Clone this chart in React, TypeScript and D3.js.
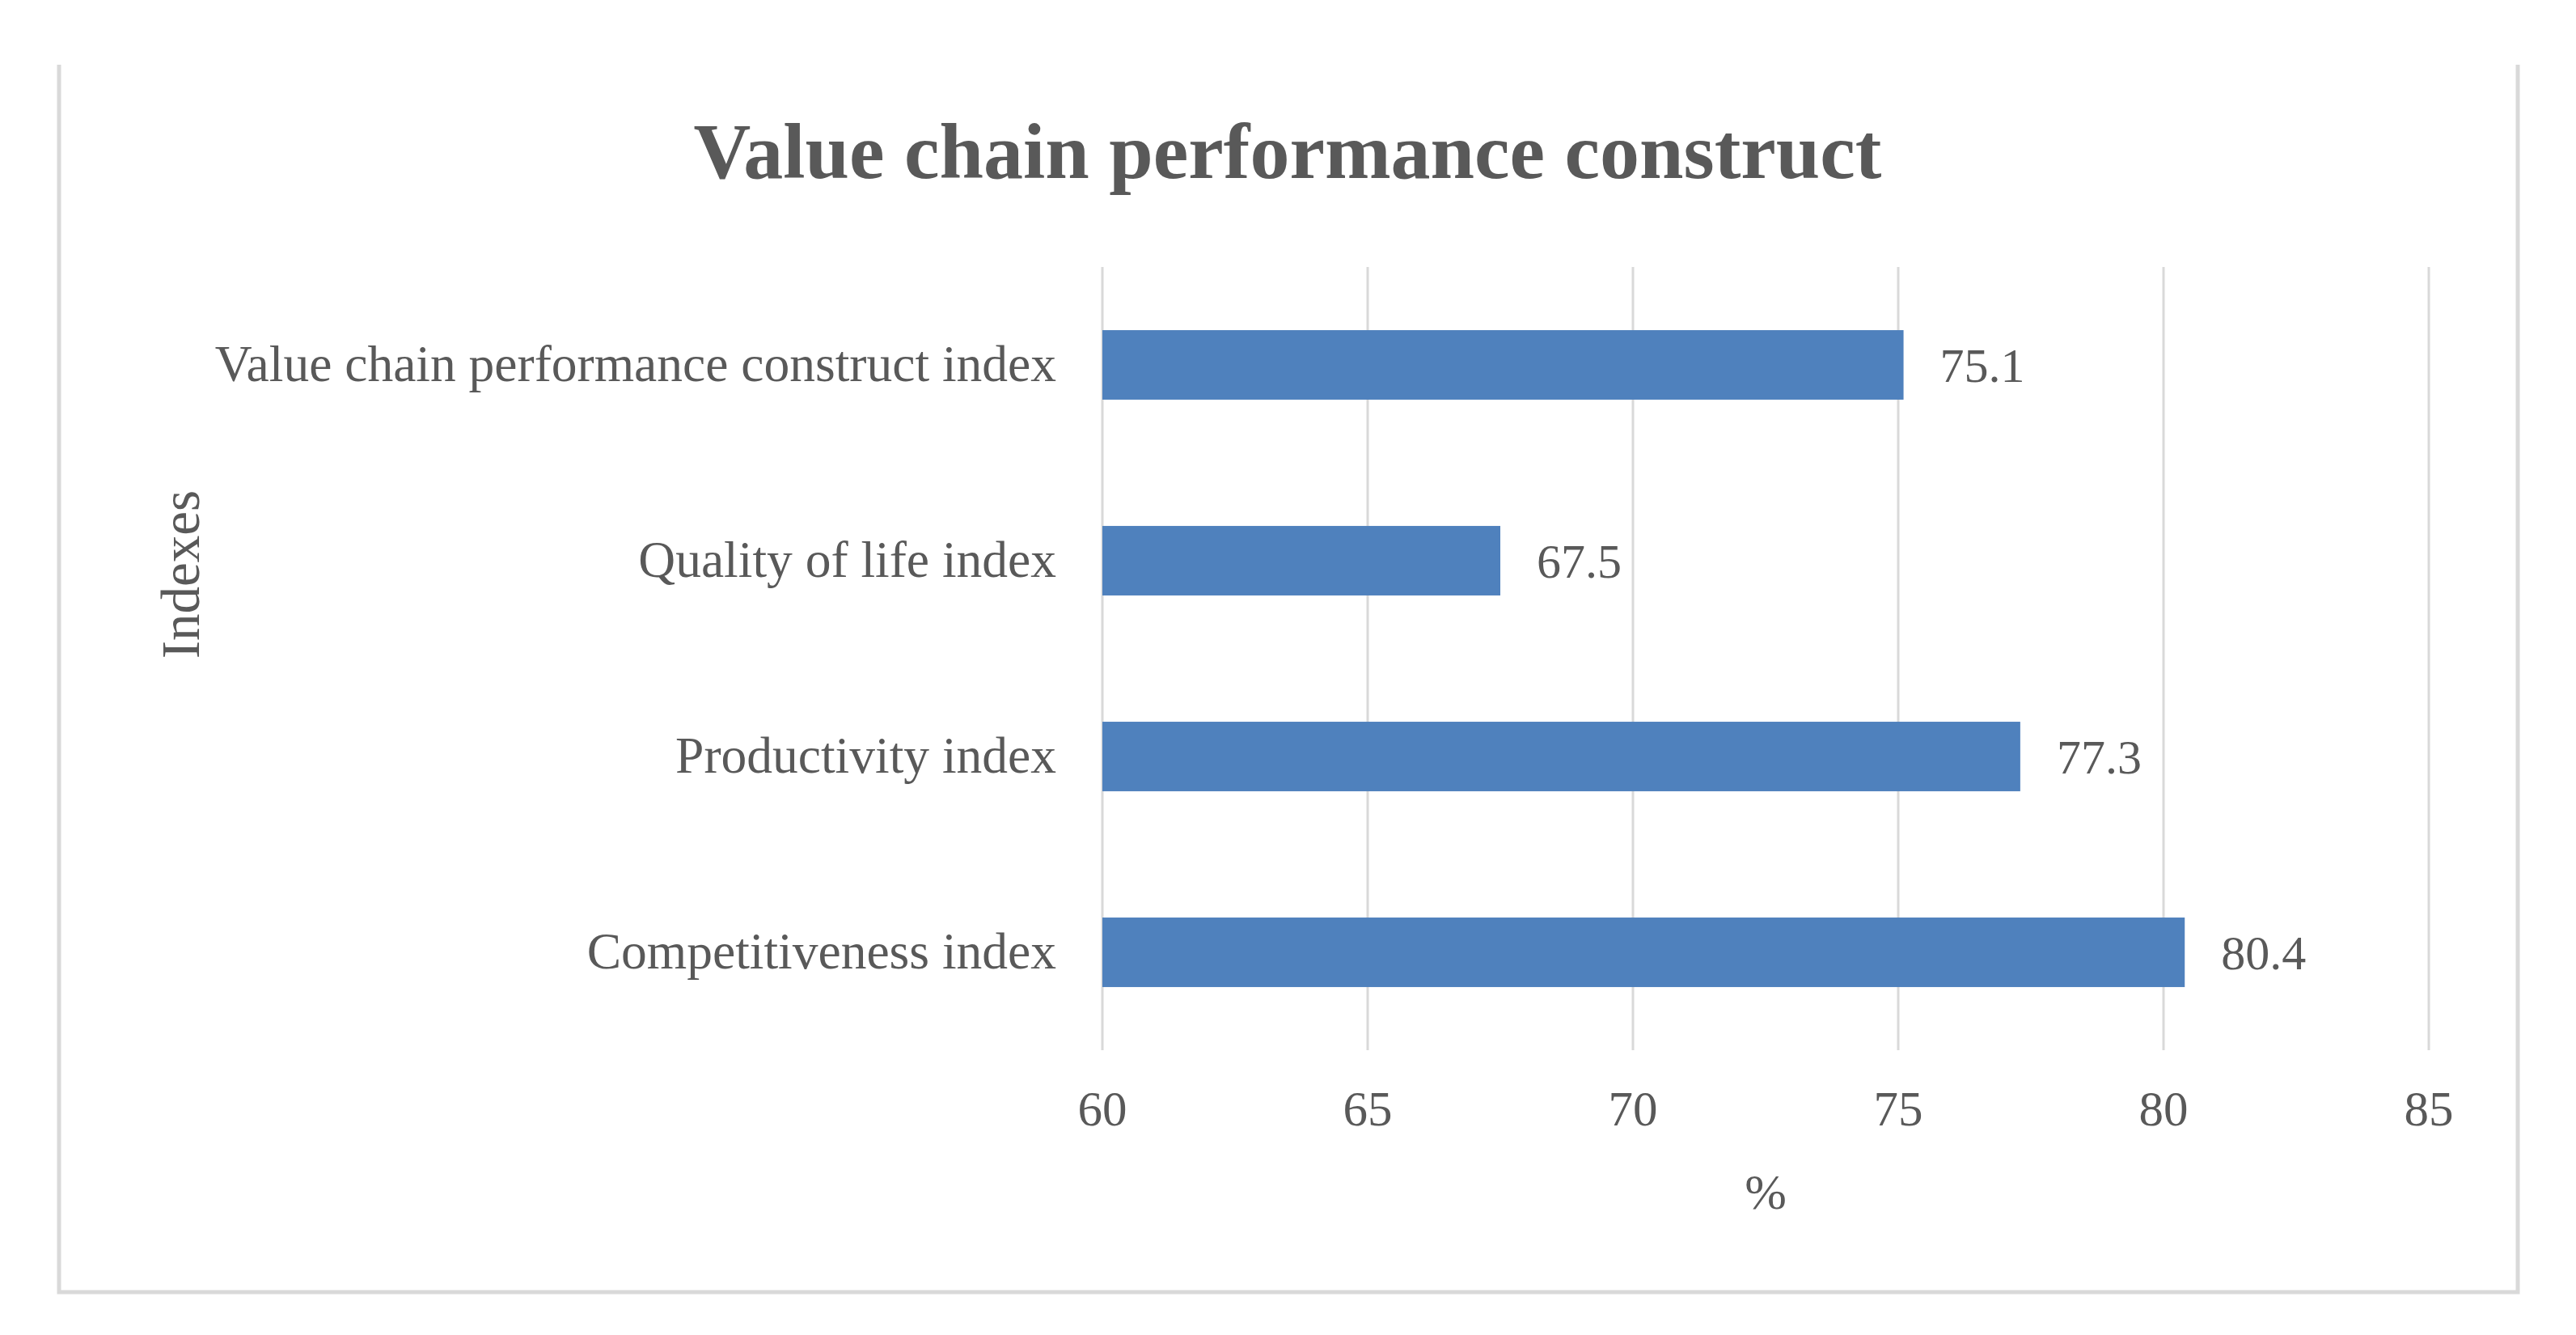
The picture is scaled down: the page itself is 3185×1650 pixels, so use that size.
import React from 'react';
import * as d3 from 'd3';

const categories = [
  'Value chain performance construct index',
  'Quality of life index',
  'Productivity index',
  'Competitiveness index',
];
const values = [75.1, 67.5, 77.3, 80.4];
const xTicks = [60, 65, 70, 75, 80, 85];

const W = 3185;
const H = 1650;
const plot = { left: 1363, right: 3003, top: 330, bottom: 1298 };
const textColor = '#595959';
const gridColor = '#d9d9d9';
const barColor = '#4f81bd';
const font = '"Liberation Serif", "Times New Roman", serif';

export default function App() {
  const x = d3.scaleLinear().domain([60, 85]).range([plot.left, plot.right]);
  const y = d3
    .scaleBand<string>()
    .domain(categories)
    .range([plot.top, plot.bottom])
    .paddingInner(0.645)
    .paddingOuter(0.3225);

  // frame has no top edge in the source
  const frame = d3.path();
  frame.moveTo(73, 80);
  frame.lineTo(73, 1597);
  frame.lineTo(3113, 1597);
  frame.lineTo(3113, 80);

  return (
    <div style={{ position: 'absolute', left: 0, top: 0 }}>
      <svg width={W} height={H} style={{ display: 'block', background: '#fff' }} fontFamily={font}>
        <path d={frame.toString()} fill="none" stroke={gridColor} strokeWidth={5} />

        <text x={1592} y={220} textAnchor="middle" fontSize={98} fontWeight="bold" fill={textColor}>
          Value chain performance construct
        </text>

        {/* vertical gridlines */}
        {xTicks.map((t) => (
          <line key={t} x1={x(t)} x2={x(t)} y1={plot.top} y2={plot.bottom} stroke={gridColor} strokeWidth={3} />
        ))}

        {/* bars */}
        {categories.map((c, i) => (
          <rect
            key={c}
            x={x(60)}
            y={y(c)}
            width={x(values[i]) - x(60)}
            height={y.bandwidth()}
            fill={barColor}
          />
        ))}

        {/* data labels */}
        {categories.map((c, i) => (
          <text
            key={c}
            x={x(values[i]) + 45}
            y={(y(c) ?? 0) + y.bandwidth() / 2}
            dy="0.35em"
            fontSize={60}
            fill={textColor}
          >
            {values[i].toFixed(1)}
          </text>
        ))}

        {/* category labels */}
        {categories.map((c) => (
          <text
            key={c}
            x={plot.left - 57}
            y={(y(c) ?? 0) + y.bandwidth() / 2}
            dy="0.32em"
            textAnchor="end"
            fontSize={63.5}
            fill={textColor}
          >
            {c}
          </text>
        ))}

        {/* x tick labels */}
        {xTicks.map((t) => (
          <text key={t} x={x(t)} y={1391} textAnchor="middle" fontSize={61} fill={textColor}>
            {t}
          </text>
        ))}

        <text x={(plot.left + plot.right) / 2} y={1494} textAnchor="middle" fontSize={62} fill={textColor}>
          %
        </text>

        <text
          transform="translate(246,710) rotate(-90)"
          textAnchor="middle"
          fontSize={67}
          fill={textColor}
        >
          Indexes
        </text>
      </svg>
    </div>
  );
}
